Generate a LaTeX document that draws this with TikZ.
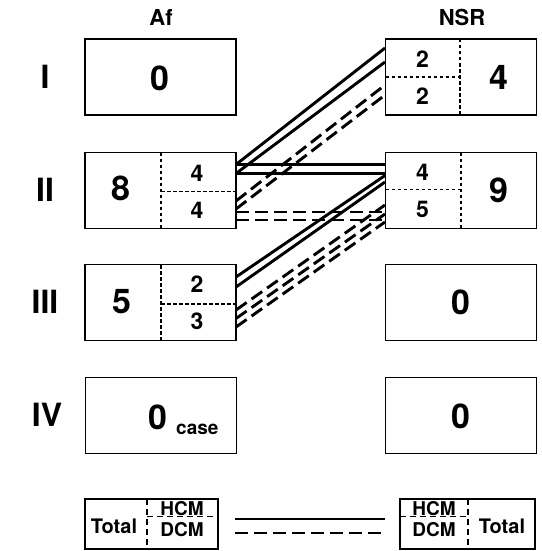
\documentclass[tikz,border=0pt]{standalone}
\usepackage{fontspec}
\setmainfont{TeX Gyre Heros}
\begin{document}
\begin{tikzpicture}[x=1pt,y=-1pt,
 box/.style={draw,line width=1.9pt,minimum width=151pt,minimum height=76pt,inner sep=0pt},
 legbox/.style={draw,line width=1.9pt,minimum width=134pt,minimum height=50pt,inner sep=0pt},
 div/.style={line width=1.5pt,dash pattern=on 3.5pt off 2.5pt},
 ldiv/.style={line width=1.5pt,dash pattern=on 6pt off 4pt},
 hcm/.style={line width=2.9pt},
 dcm/.style={line width=2.9pt,dash pattern=on 13pt off 6pt},
 big/.style={inner sep=0pt,font=\fontsize{34}{34}\selectfont\bfseries},
 mid/.style={inner sep=0pt,font=\fontsize{23}{23}\selectfont\bfseries},
 lab/.style={inner sep=0pt,font=\fontsize{32}{32}\selectfont\bfseries},
 head/.style={inner sep=0pt,font=\fontsize{22}{22}\selectfont\bfseries},
 leg/.style={inner sep=0pt,font=\fontsize{19}{19}\selectfont\bfseries},
 legt/.style={inner sep=0pt,font=\fontsize{20}{20}\selectfont\bfseries}]
\useasboundingbox (0,0) rectangle (541,551);

% headings
\node[head] (hAf) at (161,17) {Af};
\node[head] (hNSR) at (462,17) {NSR};
% row labels
\node[lab] (r1) at (45,77) {I};
\node[lab] (r2) at (45,190) {II};
\node[lab] (r3) at (45,302) {III};
\node[lab] (r4) at (47,415) {IV};

% boxes
\node[box] (L1) at (160.5,77) {};
\node[box] (L2) at (160.5,190.5) {};
\node[box] (L3) at (160.5,302.5) {};
\node[box] (L4) at (161,415.5) {};
\node[box] (R1) at (461,77) {};
\node[box] (R2) at (461,190.5) {};
\node[box] (R3) at (461,302.5) {};
\node[box] (R4) at (461,415.5) {};

% dividers
\draw[div] (161,152.5) -- (161,228.5);
\draw[div] (161,191.5) -- (236,191.5);
\draw[div] (161,265) -- (161,340);
\draw[div] (161,304) -- (236,304);
\draw[div] (460,39) -- (460,115);
\draw[div] (385.5,77) -- (460,77);
\draw[div] (461,152.5) -- (461,228.5);
\draw[div] (385.5,189.5) -- (461,189.5);

% numbers
\node[big] (nL1) at (160,78) {0};
\node[big] (nL2) at (121,188) {8};
\node[mid] (nL2h) at (197,173) {4};
\node[mid] (nL2d) at (197,210.5) {4};
\node[big] (nL3) at (122,302) {5};
\node[mid] (nL3h) at (197,284) {2};
\node[mid] (nL3d) at (197,321) {3};
\node[big] (nL4) at (158,417) {0};
\node[mid,anchor=base west,font=\fontsize{19}{19}\selectfont\bfseries] (nL4c) at (176,434) {case};
\node[mid] (nR1h) at (422.5,59) {2};
\node[mid] (nR1d) at (422.5,96) {2};
\node[big] (nR1) at (498.5,77) {4};
\node[mid] (nR2h) at (422.5,172) {4};
\node[mid] (nR2d) at (422.5,209) {5};
\node[big] (nR2) at (498.5,190.5) {9};
\node[big] (nR3) at (461,302.5) {0};
\node[big] (nR4) at (461,416) {0};

% connector end points
\coordinate (a2s1) at (236,164.5);
\coordinate (a2s2) at (236,173.5);
\coordinate (a2d1) at (236,201);
\coordinate (a2d2) at (236,209);
\coordinate (a2e1) at (236,212);
\coordinate (a2e2) at (236,220);
\coordinate (a3s1) at (236,277);
\coordinate (a3s2) at (236,287);
\coordinate (a3d1) at (236,310);
\coordinate (a3d2) at (236,318.5);
\coordinate (a3d3) at (236,327);
\coordinate (n1s1) at (385,48);
\coordinate (n1s2) at (385,62);
\coordinate (n1d1) at (385,85);
\coordinate (n1d2) at (385,95);
\coordinate (n2s1) at (385,164.5);
\coordinate (n2s2) at (385,173.5);
\coordinate (n2t1) at (385,175.5);
\coordinate (n2t2) at (385,182);
\coordinate (n2e1) at (385,212);
\coordinate (n2e2) at (385,220);
\coordinate (n2d1) at (385,205);
\coordinate (n2d2) at (385,214);
\coordinate (n2d3) at (385,222);

% connectors
\draw[hcm] (a2s1) -- (n1s1);
\draw[hcm] (a2s2) -- (n1s2);
\draw[dcm] (a2d1) -- (n1d1);
\draw[dcm] (a2d2) -- (n1d2);
\draw[hcm] (a2s1) -- (n2s1);
\draw[hcm] (a2s2) -- (n2s2);
\draw[dcm] (a2e1) -- (n2e1);
\draw[dcm] (a2e2) -- (n2e2);
\draw[hcm] (a3s1) -- (n2t1);
\draw[hcm] (a3s2) -- (n2t2);
\draw[dcm] (a3d1) -- (n2d1);
\draw[dcm] (a3d2) -- (n2d2);
\draw[dcm] (a3d3) -- (n2d3);

% legend
\node[legbox,minimum width=133pt] (LgL) at (151.5,524) {};
\draw[ldiv] (147,499) -- (147,549);
\draw[ldiv] (147,516.5) -- (218,516.5);
\node[legt] (tL) at (114,526) {Total};
\node[leg] (hL) at (182,509) {HCM};
\node[leg] (dL) at (182,530) {DCM};

\node[legbox,minimum width=135pt] (LgR) at (467.5,524) {};
\draw[ldiv] (468,499) -- (468,549);
\draw[ldiv] (400,516.5) -- (468,516.5);
\node[leg] (hR) at (434,509) {HCM};
\node[leg] (dR) at (434,530) {DCM};
\node[legt] (tR) at (502,526) {Total};

\coordinate (ls1) at (235,519);
\coordinate (ls2) at (385,519);
\coordinate (ld1) at (235,533);
\coordinate (ld2) at (385,533);
\draw[hcm] (ls1) -- (ls2);
\draw[dcm] (ld1) -- (ld2);
\end{tikzpicture}
\end{document}
